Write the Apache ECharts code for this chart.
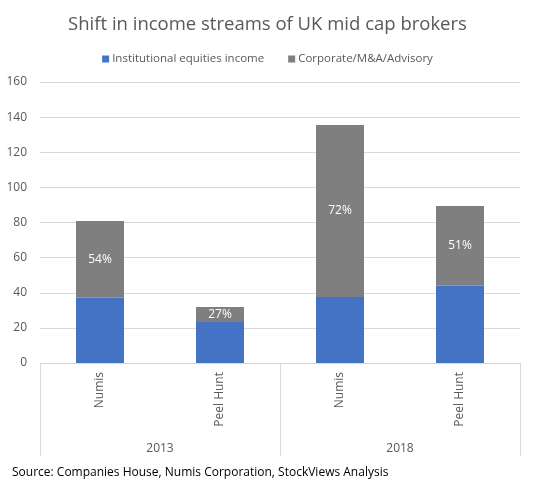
<!DOCTYPE html>
<html>
<head>
<meta charset="utf-8">
<script src="https://cdn.jsdelivr.net/npm/echarts@6/dist/echarts.min.js"></script>
<style>html,body{margin:0;padding:0;background:#fff;}#c{width:535px;height:487px;}</style>
</head>
<body>
<div id="c"></div>
<script>
const brokers = ['Numis', 'Peel Hunt', 'Numis', 'Peel Hunt'];
const years = ['2013', '2018'];
const institutional = [37.2, 23.3, 37.6, 44.0];
const corporate = [43.7, 8.6, 97.9, 45.4];
const corporateShare = ['54%', '27%', '72%', '51%'];
const yTicks = [0, 20, 40, 60, 80, 100, 120, 140, 160];

const font = '"Open Sans", "Noto Sans", sans-serif';
const txt = '#595959';
const chart = echarts.init(document.getElementById('c'));
chart.setOption({
  animation: false,
  textStyle: { fontFamily: font },
  title: {
    text: 'Shift in income streams of UK mid cap brokers',
    left: 'center', top: 10,
    textStyle: { fontFamily: font, fontSize: 18.5, fontWeight: 'normal', color: txt }
  },
  legend: {
    top: 48, left: 'center', itemWidth: 7, itemHeight: 7, itemGap: 24,
    icon: 'rect',
    textStyle: { fontFamily: font, fontSize: 11.5, color: txt, padding: [0, 0, 0, -2] },
    data: ['Institutional equities income', 'Corporate/M&A/Advisory']
  },
  graphic: [{
    type: 'text', left: 12, top: 467,
    style: { text: 'Source: Companies House, Numis Corporation, StockViews Analysis', font: '12px ' + font, fill: '#000' }
  }],
  grid: { left: 40, right: 15, top: 82, bottom: 124 },
  xAxis: [{
    type: 'category', data: brokers, position: 'bottom',
    axisLine: { lineStyle: { color: '#d9d9d9' } },
    axisTick: { show: false },
    axisLabel: { rotate: 90, margin: 9, fontSize: 12, color: txt, fontFamily: font }
  }, {
    type: 'category', data: years, position: 'bottom',
    axisLine: { show: false },
    axisTick: { show: true, length: 93, lineStyle: { color: '#d9d9d9' } },
    axisLabel: { margin: 80, fontSize: 12, color: txt, fontFamily: font }
  }],
  yAxis: {
    type: 'value', min: yTicks[0], max: yTicks[yTicks.length - 1], interval: 20,
    axisLine: { show: false }, axisTick: { show: false },
    splitLine: { lineStyle: { color: '#d9d9d9' } },
    axisLabel: { margin: 13, fontSize: 12, color: txt, fontFamily: font }
  },
  series: [{
    name: 'Institutional equities income', type: 'bar', stack: 's', xAxisIndex: 0,
    barWidth: '40%', data: institutional, itemStyle: { color: '#4472C4' }
  }, {
    name: 'Corporate/M&A/Advisory', type: 'bar', stack: 's', xAxisIndex: 0,
    barWidth: '40%', data: corporate, itemStyle: { color: '#7F7F7F' },
    label: {
      show: true, position: 'inside', color: '#fff', fontSize: 12, fontFamily: font,
      formatter: p => corporateShare[p.dataIndex]
    }
  }]
});
</script>
</body>
</html>
